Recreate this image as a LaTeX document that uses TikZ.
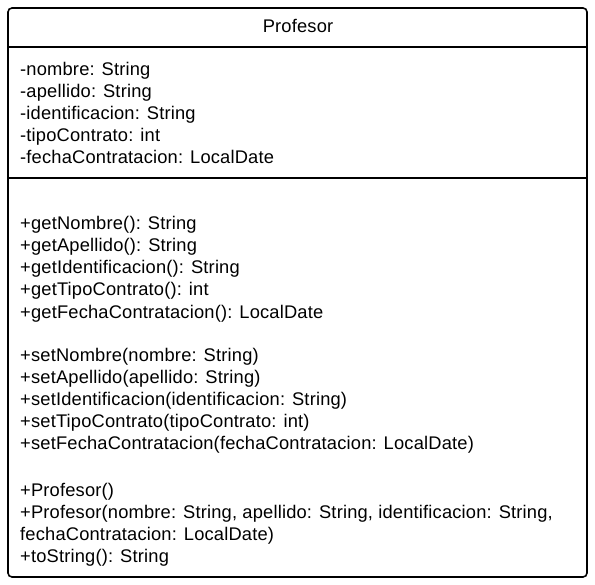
\documentclass[tikz,border=0pt]{standalone}
\usepackage{fontspec}
\setmainfont[LetterSpace=1]{Liberation Sans}
\begin{document}
\begin{tikzpicture}[x=1pt,y=-1pt,
  frame/.style={draw=black,line width=1.6pt,rounded corners=4pt},
  sep/.style={draw=black,line width=1.6pt},
  txt/.style={anchor=base west,inner sep=0pt,font=\fontsize{18.3}{21}\selectfont},
  ttl/.style={anchor=base,inner sep=0pt,font=\fontsize{18.3}{21}\selectfont}]
\useasboundingbox (0,0) rectangle (595,585);
\draw[frame] (8,8) rectangle (587,577);
\coordinate (s1l) at (8,47); \coordinate (s1r) at (587,47);
\coordinate (s2l) at (8,178); \coordinate (s2r) at (587,178);
\draw[sep] (s1l) -- (s1r);
\draw[sep] (s2l) -- (s2r);
\node[ttl] (title) at (298,32.5) {Profesor};
\node[txt] (a1) at (20,76) {-nombre: String};
\node[txt] (a2) at (20,98) {-apellido: String};
\node[txt] (a3) at (20,120) {-identificacion: String};
\node[txt] (a4) at (20,142) {-tipoContrato: int};
\node[txt] (a5) at (20,164) {-fechaContratacion: LocalDate};
\node[txt] (g1) at (20,229.3) {+getNombre(): String};
\node[txt] (g2) at (20,251.5) {+getApellido(): String};
\node[txt] (g3) at (20,273.7) {+getIdentificacion(): String};
\node[txt] (g4) at (20,295.9) {+getTipoContrato(): int};
\node[txt] (g5) at (20,318.1) {+getFechaContratacion(): LocalDate};
\node[txt] (t1) at (20,361.3) {+setNombre(nombre: String)};
\node[txt] (t2) at (20,383.3) {+setApellido(apellido: String)};
\node[txt] (t3) at (20,405.3) {+setIdentificacion(identificacion: String)};
\node[txt] (t4) at (20,427.3) {+setTipoContrato(tipoContrato: int)};
\node[txt] (t5) at (20,449.3) {+setFechaContratacion(fechaContratacion: LocalDate)};
\node[txt] (c1) at (20,496.2) {+Profesor()};
\node[txt] (c2) at (20,518.2) {+Profesor(nombre: String, apellido: String, identificacion: String,};
\node[txt] (c3) at (20,540.2) {fechaContratacion: LocalDate)};
\node[txt] (c4) at (20,562.2) {+toString(): String};
\end{tikzpicture}
\end{document}
